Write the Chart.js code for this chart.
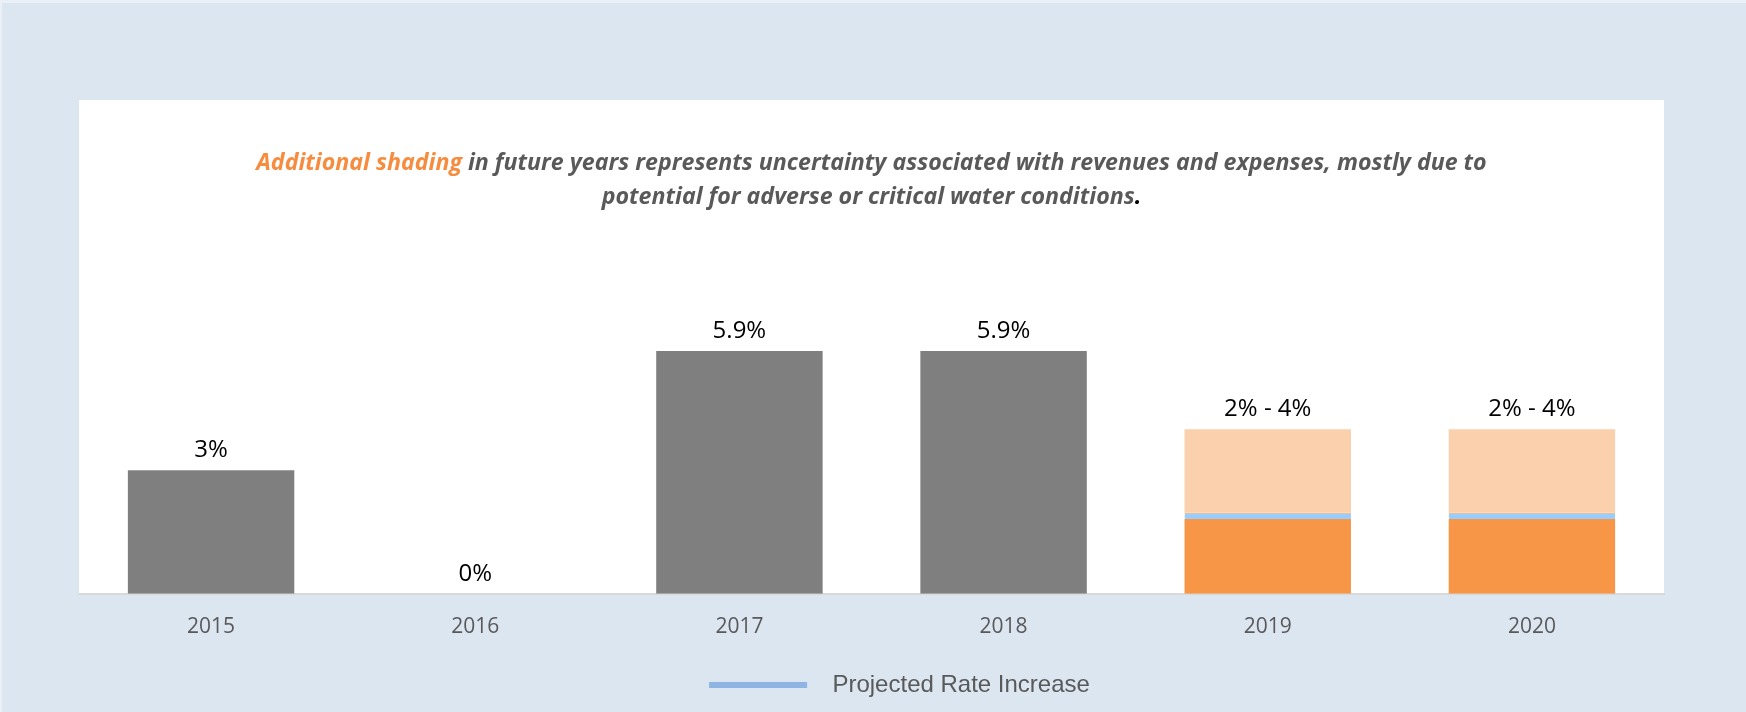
<!DOCTYPE html>
<html>
<head>
<meta charset="utf-8">
<script src="https://cdn.jsdelivr.net/npm/chart.js@4/dist/chart.umd.min.js"></script>
<style>
  html, body { margin: 0; padding: 0; background: #DCE6F1; }
  #wrap { width: 1746px; height: 712px; }
</style>
</head>
<body>
<div id="wrap"><canvas id="rates" width="1746" height="712"></canvas></div>
<script>
var years = ['2015', '2016', '2017', '2018', '2019', '2020'];
var actual = [3, 0, 5.9, 5.9, null, null];
var lowEnd = [null, null, null, null, 1.82, 1.82];
var projected = [null, null, null, null, 0.15, 0.15];
var shading = [null, null, null, null, 2.03, 2.03];
var barLabels = ['3%', '0%', '5.9%', '5.9%', '2% - 4%', '2% - 4%'];
var noteHighlight = 'Additional shading';
var noteLine1 = ' in future years represents uncertainty associated with revenues and expenses, mostly due to';
var noteLine2 = 'potential for adverse or critical water conditions';
var legendName = 'Projected Rate Increase';

// white panel behind the plot + faint edge at the top/left of the picture
var panel = {
  id: 'panel',
  beforeDraw: function(chart) {
    var ctx = chart.ctx, a = chart.chartArea;
    ctx.save();
    ctx.fillStyle = '#EAF0F7';
    ctx.fillRect(0, 0, chart.width, 3);
    ctx.fillRect(0, 0, 2, chart.height);
    ctx.fillStyle = '#ffffff';
    ctx.fillRect(a.left, a.top, a.right - a.left, a.bottom - a.top);
    ctx.restore();
  }
};

// italic note with the highlighted words
var note = {
  id: 'note',
  afterDraw: function(chart) {
    var ctx = chart.ctx, a = chart.chartArea;
    var cx = (a.left + a.right) / 2;
    ctx.save();
    ctx.font = 'italic bold 23.2px "Open Sans"';
    ctx.textBaseline = 'middle';
    ctx.textAlign = 'left';
    var w1 = ctx.measureText(noteHighlight).width;
    var w2 = ctx.measureText(noteLine1).width;
    var x = cx - (w1 + w2) / 2;
    ctx.fillStyle = '#F78C3F';
    ctx.fillText(noteHighlight, x, a.top + 63);
    ctx.fillStyle = '#595959';
    ctx.fillText(noteLine1, x + w1, a.top + 63);
    var w3 = ctx.measureText(noteLine2).width;
    var w4 = ctx.measureText('.').width;
    x = cx - (w3 + w4) / 2;
    ctx.fillText(noteLine2, x, a.top + 97);
    ctx.fillStyle = '#000000';
    ctx.fillText('.', x + w3, a.top + 97);
    ctx.restore();
  }
};

// value labels above each stack
var valueLabels = {
  id: 'valueLabels',
  afterDatasetsDraw: function(chart) {
    var ctx = chart.ctx, xs = chart.scales.x, ys = chart.scales.y;
    ctx.save();
    ctx.font = '24px "Open Sans"';
    ctx.fillStyle = '#000000';
    ctx.textAlign = 'center';
    ctx.textBaseline = 'middle';
    for (var i = 0; i < years.length; i++) {
      var total = (actual[i] || 0) + (lowEnd[i] || 0) + (projected[i] || 0) + (shading[i] || 0);
      ctx.fillText(barLabels[i], xs.getPixelForValue(i), ys.getPixelForValue(total) - 20);
    }
    ctx.restore();
  },
  afterLayout: function(chart) {
    // legend sits a bit right of centre in the original
    chart.legend.left += 28;
    chart.legend.right += 28;
  }
};

var config = {
  type: 'bar',
  data: {
    labels: years,
    datasets: [
      { label: 'Actual', data: actual, backgroundColor: '#7F7F7F' },
      { label: 'Low', data: lowEnd, backgroundColor: '#F79646' },
      { label: legendName, data: projected, backgroundColor: '#99CCFF',
        borderColor: '#F2A66A', borderWidth: { top: 1 } },
      { label: 'Shading', data: shading, backgroundColor: '#FAD0AD' }
    ]
  },
  options: {
    responsive: false,
    animation: false,
    barPercentage: 0.63,
    categoryPercentage: 1,
    layout: { padding: { left: 79, right: 82, top: 100, bottom: 5 } },
    scales: {
      x: {
        stacked: true,
        grid: { color: 'transparent', drawTicks: false },
        border: { color: '#D9D9D9', width: 2 },
        ticks: { color: '#595959', font: { family: '"Open Sans"', size: 21 }, padding: 21 }
      },
      y: { stacked: true, display: false, min: 0, max: 12 }
    },
    plugins: {
      tooltip: { enabled: false },
      legend: {
        position: 'bottom',
        labels: {
          padding: 12,
          boxWidth: 98,
          boxHeight: 6,
          color: '#595959',
          font: { family: '"Liberation Sans"', size: 24 },
          generateLabels: function(chart) {
            var items = [];
            chart.data.datasets.forEach(function(ds, i) {
              if (ds.label === legendName) {
                items.push({ text: '  ' + ds.label, fillStyle: '#8DB4E2', strokeStyle: '#8DB4E2',
                  lineWidth: 0, datasetIndex: i, fontColor: '#595959' });
              }
            });
            return items;
          }
        }
      }
    }
  },
  plugins: [panel, note, valueLabels]
};

var ctx = document.getElementById('rates').getContext('2d');
var myChart = new Chart(ctx, config);
</script>
</body>
</html>
